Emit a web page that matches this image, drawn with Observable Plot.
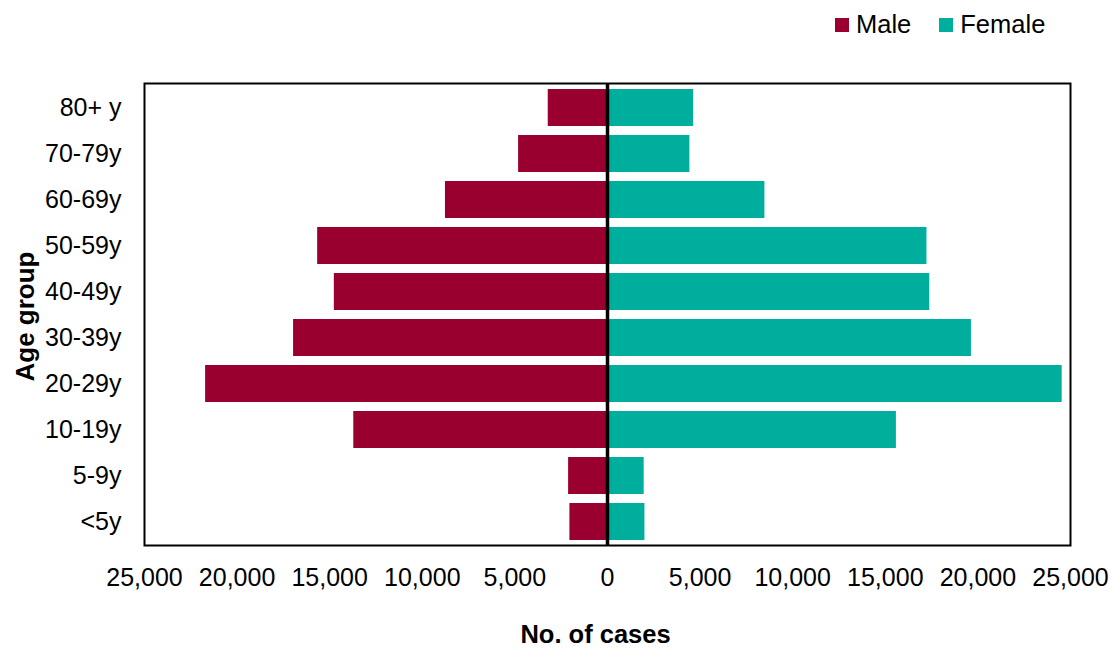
<!DOCTYPE html>
<html>
<head>
<meta charset="utf-8">
<script src="https://cdn.jsdelivr.net/npm/d3@7"></script>
<script src="https://cdn.jsdelivr.net/npm/@observablehq/plot@0.6"></script>
<style>
  html, body { margin: 0; padding: 0; background: #fff; }
  #wrap { position: relative; width: 1113px; height: 648px; font-family: "Liberation Sans", Arial, sans-serif; }
  #legend { position: absolute; top: 10px; left: 835px; display: flex; align-items: center; font-size: 25.5px; color: #000; white-space: nowrap; }
  .sw { display: inline-block; width: 14px; height: 14px; margin-right: 7px; }
  .item { display: flex; align-items: center; margin-right: 28px; }
</style>
</head>
<body>
<div id="wrap">
  <div id="chart"></div>
  <div id="legend"></div>
</div>
<script>
const ageGroups = ["<5y", "5-9y", "10-19y", "20-29y", "30-39y", "40-49y", "50-59y", "60-69y", "70-79y", "80+ y"];
const male   = [2030, 2100, 13700, 21700, 16950, 14750, 15650, 8750, 4800, 3200];
const female = [2020, 1980, 15600, 24550, 19650, 17400, 17250, 8500, 4450, 4650];
const sexes = ["Male", "Female"];
const colors = ["#990030", "#00ae9d"];
const xTicks = [-25000, -20000, -15000, -10000, -5000, 0, 5000, 10000, 15000, 20000, 25000];

const rows = [];
ageGroups.forEach((g, i) => {
  rows.push({age: g, sex: "Male", value: -male[i]});
  rows.push({age: g, sex: "Female", value: female[i]});
});

const fmt = d3.format(",");
const chart = Plot.plot({
  width: 1113,
  height: 648,
  marginLeft: 144,
  marginRight: 43,
  marginTop: 83,
  marginBottom: 103,
  style: {fontFamily: "'Liberation Sans', Arial, sans-serif", fontSize: "25px", color: "#000", background: "#fff"},
  x: {domain: [-25000, 25000]},
  y: {domain: ageGroups.slice().reverse(), paddingInner: 0.2, paddingOuter: 0.1},
  color: {domain: sexes, range: colors},
  marks: [
    Plot.barX(rows, {x: "value", y: "age", fill: "sex"}),
    Plot.ruleX([0], {stroke: "#000", strokeWidth: 3.5}),
    Plot.frame({stroke: "#000", strokeWidth: 2}),
    Plot.axisX({ticks: xTicks, tickFormat: d => fmt(Math.abs(d)), tickSize: 0, tickPadding: 23, label: null, fontSize: "25px"}),
    Plot.axisY({tickSize: 0, tickPadding: 23, label: null, fontSize: "25px"}),
    Plot.text(["No. of cases"], {frameAnchor: "bottom", dy: 97, dx: -12, fontWeight: "bold", fontSize: 25.5, fill: "#000"}),
    Plot.text(["Age group"], {frameAnchor: "left", textAnchor: "middle", dx: -119, dy: 2, rotate: -90, fontWeight: "bold", fontSize: 26, fill: "#000"})
  ]
});
document.getElementById("chart").appendChild(chart);

const legend = document.getElementById("legend");
sexes.forEach((s, i) => {
  const item = document.createElement("span");
  item.className = "item";
  const sw = document.createElement("span");
  sw.className = "sw";
  sw.style.background = colors[i];
  item.appendChild(sw);
  item.appendChild(document.createTextNode(s));
  legend.appendChild(item);
});
</script>
</body>
</html>
